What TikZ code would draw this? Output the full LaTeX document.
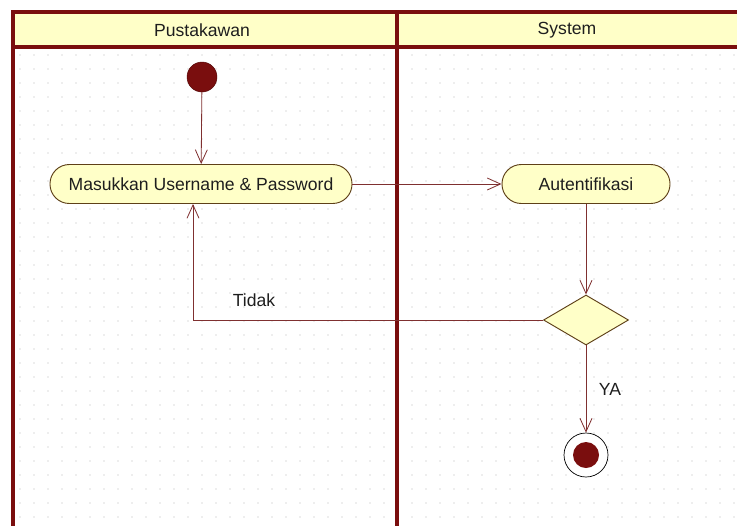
\documentclass[tikz,border=0pt]{standalone}
\usepackage{fontspec}
\setmainfont{Liberation Sans}
\usetikzlibrary{arrows.meta,shapes.geometric}
\definecolor{lane}{HTML}{7A0E0E}
\definecolor{flowc}{HTML}{7F3030}
\definecolor{edge}{HTML}{5E4018}
\definecolor{cream}{HTML}{FFFFC8}
\definecolor{dotc}{HTML}{B4B4B4}
\definecolor{ink}{HTML}{1E1E1E}
\begin{document}
\begin{tikzpicture}[x=0.03cm,y=-0.03cm,
  act/.style={draw=edge,line width=0.8pt,fill=cream,rounded corners=0.58cm,minimum height=1.17cm,text=ink,font=\fontsize{15}{18}\selectfont},
  dec/.style={draw=edge,line width=0.8pt,fill=cream,shape=diamond,inner sep=0pt,minimum width=2.55cm,minimum height=1.5cm,shape aspect=1.7},
  flow/.style={draw=flowc,line width=0.7pt,-{Straight Barb[length=4mm,width=3.6mm,line width=0.7pt]}},
  lbl/.style={text=ink,font=\fontsize{15}{18}\selectfont}]
\useasboundingbox (0,0) rectangle (737,526);
% grid dots
\foreach \gx in {20,34,...,736} \foreach \gy in {55,69,...,526}
  \fill[dotc] (\gx,\gy) circle (0.55pt);
% swimlanes
\fill[cream] (13,12) rectangle (737,47);
\draw[lane,line width=2.8pt] (737,12) -- (13,12) -- (13,526);
\draw[lane,line width=2.8pt] (13,47) -- (737,47);
\draw[lane,line width=3pt] (397,12) -- (397,526);
\node[lbl] (l1) at (202,30) {Pustakawan};
\node[lbl] (l2) at (567,30) {System};
% nodes
\node[circle,fill=lane,draw=lane!70!black,minimum size=0.9cm,inner sep=0pt] (start) at (202,77) {};
\node[act,minimum width=9.06cm] (login) at (201,184) {Masukkan Username \& Password};
\node[act,minimum width=5.04cm] (auth) at (586,184) {Autentifikasi};
\node[dec] (cek) at (586,320) {};
\node[circle,draw=black,line width=0.6pt,fill=white,minimum size=1.32cm,inner sep=0pt] (end) at (586,455) {};
\node[circle,fill=lane,minimum size=0.78cm,inner sep=0pt] (endin) at (586,455) {};
% flows
\draw[flow] (start) -- (login);
\draw[flow] (login) -- (auth);
\draw[flow] (auth) -- (cek);
\draw[flow] (cek.west) -| ([xshift=-0.24cm]login.south);
\draw[flow] (cek) -- (end);
\node[lbl] (tidak) at (254,300) {Tidak};
\node[lbl] (ya) at (610,389) {YA};
\end{tikzpicture}
\end{document}
